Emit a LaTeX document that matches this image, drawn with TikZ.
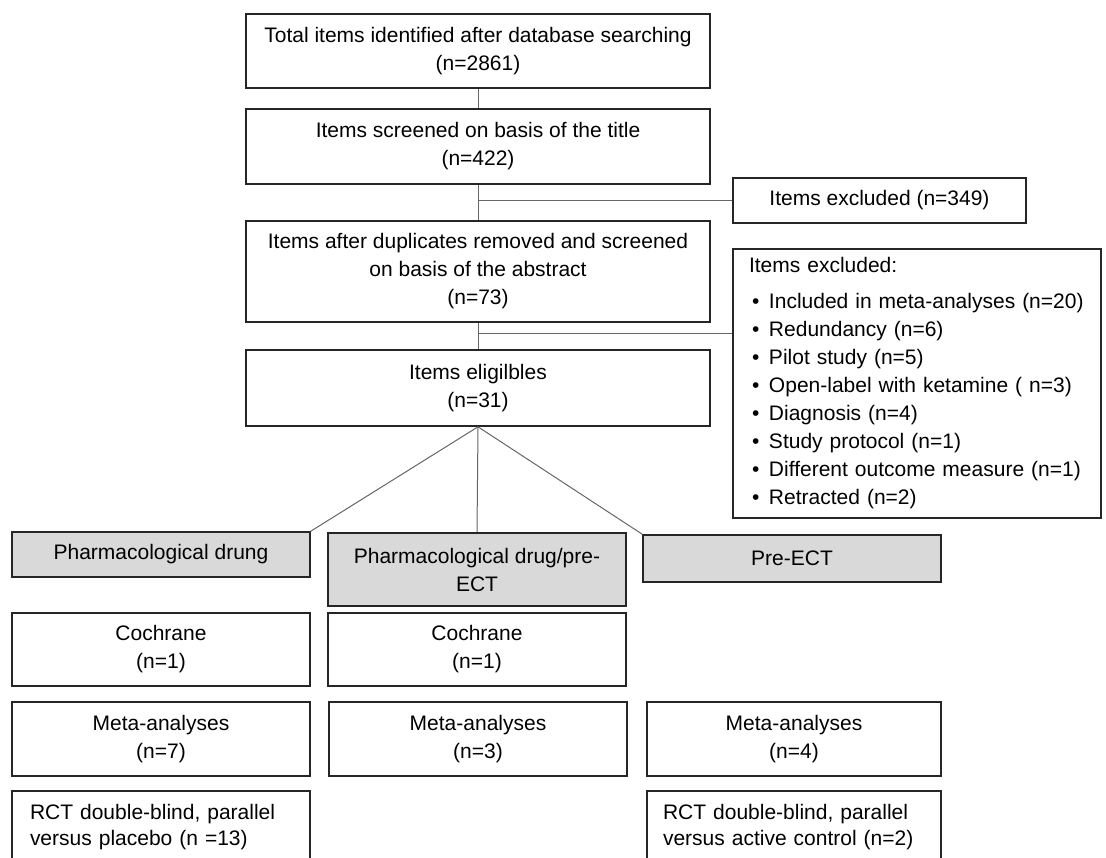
\documentclass[tikz,border=0pt]{standalone}
\usepackage{fontspec}
\setmainfont{Liberation Sans}
\usetikzlibrary{calc}
\newcommand{\exclitem}[1]{\hspace*{3pt}\makebox[17pt][l]{\textbullet}#1}

\begin{document}
\begin{tikzpicture}[x=1pt,y=-1pt,thick]
    % `stage' is used for the white boxes of the flow.
    % `group' is used for the three grey boxes (kind of treatment).
    % `listing' is used for boxes with left aligned text.
    % `link' is used for the connecting lines.
    \tikzstyle{stage} = [draw=black!85,line width=1.6pt,fill=white,align=center,inner sep=0pt,font=\fontsize{21}{28}\selectfont]
    \tikzstyle{group} = [stage,fill=black!15]
    \tikzstyle{listing} = [stage,align=left,inner xsep=16pt]
    \tikzstyle{link} = [draw=black!60,line width=1pt]
    \useasboundingbox (0,0) rectangle (1106,858);
    %
    % Main column.
    \node[stage,minimum width=464pt,minimum height=74pt] (total) at (478,51) {Total items identified after database searching\\(n=2861)};
    \node[stage,minimum width=464pt,minimum height=75pt] (title) at (478,146.5) {Items screened on basis of the title\\(n=422)};
    \node[stage,minimum width=464pt,minimum height=101pt] (abstract) at (478,271.5) {Items after duplicates removed and screened\\on basis of the abstract\\(n=73)};
    \node[stage,minimum width=464pt,minimum height=76pt] (eligible) at (478,388) {Items eligilbles\\(n=31)};
    %
    % Excluded items.
    \node[stage,minimum width=293pt,minimum height=45pt] (excl1) at (879.5,200.5) {Items excluded (n=349)};
    \node[listing,text width=336pt,minimum width=368pt,minimum height=269pt] (excl2) at (917,383.5) {Items excluded:\\[8pt]
      \exclitem{Included in meta-analyses (n=20)}\\
      \exclitem{Redundancy (n=6)}\\
      \exclitem{Pilot study (n=5)}\\
      \exclitem{Open-label with ketamine ( n=3)}\\
      \exclitem{Diagnosis (n=4)}\\
      \exclitem{Study protocol (n=1)}\\
      \exclitem{Different outcome measure (n=1)}\\
      \exclitem{Retracted (n=2)}};
    %
    % Kind of treatment.
    \node[group,minimum width=298pt,minimum height=45pt] (drug) at (161,554.5) {Pharmacological drung};
    \node[group,minimum width=298pt,minimum height=73pt] (mixed) at (477,569.5) {Pharmacological drug/pre-\\ECT};
    \node[group,minimum width=298pt,minimum height=47pt] (ect) at (792,558.5) {Pre-ECT};
    %
    % Kind of study.
    \node[stage,minimum width=298pt,minimum height=73pt] (coch1) at (161,649.5) {Cochrane\\(n=1)};
    \node[stage,minimum width=298pt,minimum height=73pt] (coch2) at (477,649.5) {Cochrane\\(n=1)};
    \node[stage,minimum width=298pt,minimum height=74pt] (meta1) at (161,739) {Meta-analyses\\(n=7)};
    \node[stage,minimum width=298pt,minimum height=74pt] (meta2) at (478,739) {Meta-analyses\\(n=3)};
    \node[stage,minimum width=294pt,minimum height=74pt] (meta3) at (794,739) {Meta-analyses\\(n=4)};
    \node[listing,inner xsep=18pt,text width=262pt,minimum width=298pt,minimum height=72pt,font=\fontsize{21}{26}\selectfont] (rct1) at (161,827) {RCT double-blind, parallel\\versus placebo (n =13)};
    \node[listing,text width=262pt,minimum width=294pt,minimum height=72pt,font=\fontsize{21}{26}\selectfont] (rct2) at (794,827) {RCT double-blind, parallel\\versus active control (n=2)};
    %
    % Draw lines.
    \draw[link] (total) -- (title);
    \draw[link] (title) -- (abstract);
    \draw[link] (excl1.west -| title.south) -- (excl1.west);
    \draw[link] (abstract) -- (eligible);
    \coordinate (split) at ($(abstract.south)!0.4!(eligible.north)$);
    \draw[link] (split) -- (split -| excl2.west);
    \draw[link] (eligible.south) -- (drug.north east);
    \draw[link] (eligible.south) -- (mixed.north);
    \draw[link] (eligible.south) -- (ect.north west);
\end{tikzpicture}
\end{document}
